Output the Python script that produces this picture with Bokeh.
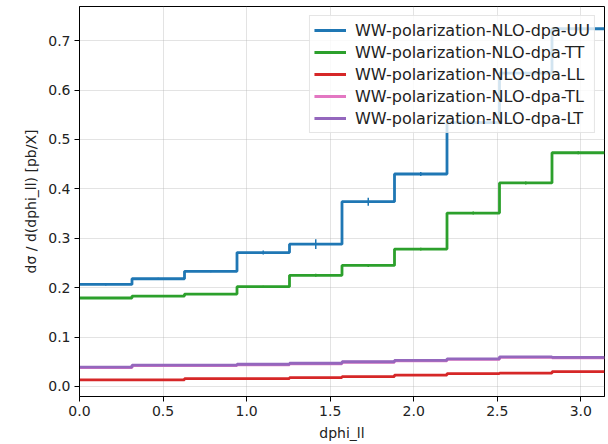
import numpy as np
from bokeh.plotting import figure
from bokeh.models import Legend, LegendItem, Range1d, FixedTicker, CustomJSTickFormatter
from bokeh.embed import file_html
from bokeh.resources import INLINE

n_bins = 10
edges = list(np.linspace(0, np.pi, n_bins + 1))
names = ["WW-polarization-NLO-dpa-UU", "WW-polarization-NLO-dpa-TT", "WW-polarization-NLO-dpa-LL",
         "WW-polarization-NLO-dpa-TL", "WW-polarization-NLO-dpa-LT"]
colors = ["#1f77b4", "#2ca02c", "#d62728", "#e377c2", "#9467bd"]

uu = [0.2065, 0.218, 0.233, 0.271, 0.288, 0.374, 0.430, 0.534, 0.634, 0.724]
tt = [0.179, 0.183, 0.187, 0.202, 0.225, 0.245, 0.278, 0.351, 0.412, 0.473]
ll = [0.0135, 0.0135, 0.016, 0.016, 0.018, 0.020, 0.023, 0.026, 0.027, 0.030]
tl = [0.038, 0.042, 0.042, 0.044, 0.046, 0.049, 0.052, 0.055, 0.059, 0.058]
lt = [0.039, 0.043, 0.043, 0.045, 0.047, 0.050, 0.053, 0.056, 0.060, 0.059]
uu_err = [0.002, 0.002, 0.002, 0.004, 0.010, 0.008, 0.004, 0.004, 0.003, 0.003]
tt_err = [0.002, 0.002, 0.002, 0.002, 0.003, 0.003, 0.003, 0.003, 0.003, 0.003]

series = [uu, tt, ll, tl, lt]
errors = [uu_err, tt_err, None, None, None]

p = figure(width=608, height=444, output_backend="svg", toolbar_location=None,
           x_range=Range1d(0, np.pi), y_range=Range1d(-0.0203, 0.769),
           min_border_left=79, min_border_right=4, min_border_top=6, min_border_bottom=48)
p.background_fill_color = "white"
p.border_fill_color = "white"
p.outline_line_color = "black"
p.outline_line_width = 1

centers = [(edges[i] + edges[i + 1]) / 2 for i in range(n_bins)]
items = []
for name, col, vals, err in zip(names, colors, series, errors):
    r = p.step(x=edges, y=vals + [vals[-1]], mode="after", line_color=col, line_width=2.8)
    if err is not None:
        p.segment(x0=centers, x1=centers, y0=[v - e for v, e in zip(vals, err)],
                  y1=[v + e for v, e in zip(vals, err)], line_color=col, line_width=1.5)
    items.append(LegendItem(label=name, renderers=[r]))

legend = Legend(items=items, location="top_right")
legend.label_text_font = "DejaVu Sans"
legend.label_text_font_size = "16px"
legend.label_text_color = "#222222"
legend.glyph_width = 32
legend.glyph_height = 20
legend.label_height = 20
legend.label_standoff = 9
legend.spacing = 2
legend.padding = 4
legend.margin = 9
legend.background_fill_alpha = 0.8
legend.border_line_color = "#cccccc"
legend.border_line_width = 1
p.add_layout(legend)

p.xaxis.ticker = FixedTicker(ticks=[0, 0.5, 1.0, 1.5, 2.0, 2.5, 3.0])
p.yaxis.ticker = FixedTicker(ticks=[0, 0.1, 0.2, 0.3, 0.4, 0.5, 0.6, 0.7])
p.xaxis.axis_label = "dphi_ll"
p.yaxis.axis_label = "dσ / d(dphi_ll) [pb/X]"
for ax in [p.xaxis[0], p.yaxis[0]]:
    ax.major_label_text_font = "DejaVu Sans"
    ax.major_label_text_font_size = "14px"
    ax.major_label_text_color = "#222222"
    ax.axis_label_text_font = "DejaVu Sans"
    ax.axis_label_text_font_size = "14px"
    ax.axis_label_text_font_style = "normal"
    ax.axis_label_text_color = "#222222"
    ax.minor_tick_line_color = None
    ax.major_tick_out = 5
    ax.major_tick_in = 0
    ax.axis_line_color = "black"
    ax.major_tick_line_color = "black"
    ax.axis_label_standoff = 6
    ax.major_label_standoff = 4
p.xaxis.formatter = CustomJSTickFormatter(code="return tick.toFixed(1);")
p.yaxis.formatter = CustomJSTickFormatter(code="return tick.toFixed(1);")

p.xgrid.grid_line_color = "#b0b0b0"
p.ygrid.grid_line_color = "#b0b0b0"
p.xgrid.grid_line_alpha = 0.35
p.ygrid.grid_line_alpha = 0.35

open("out.html", "w").write(file_html(p, INLINE))
